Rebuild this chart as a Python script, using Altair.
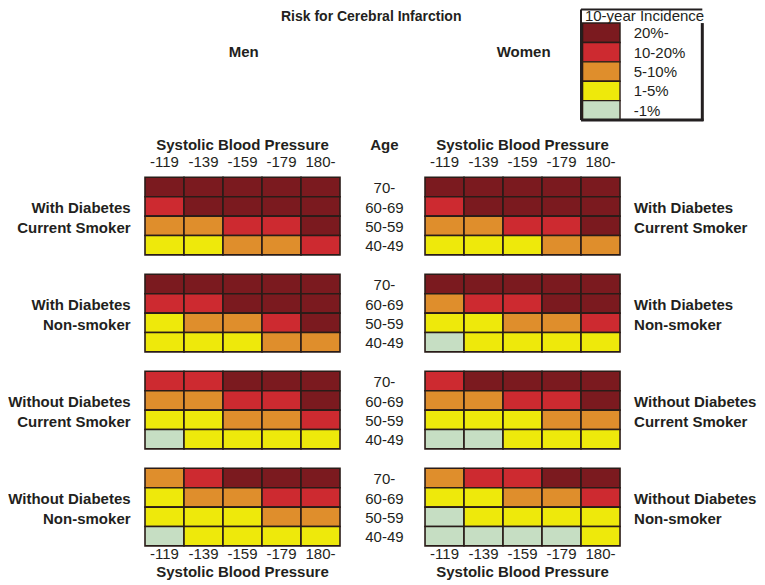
import altair as alt
import pandas as pd

# ---------------- data ----------------
sbp_labels = ["-119", "-139", "-159", "-179", "180-"]
age_labels = ["70-", "60-69", "50-59", "40-49"]
group_line1 = ["With Diabetes", "With Diabetes", "Without Diabetes", "Without Diabetes"]
group_line2 = ["Current Smoker", "Non-smoker", "Current Smoker", "Non-smoker"]
sex_labels = ["Men", "Women"]
level_labels = ["20%-", "10-20%", "5-10%", "1-5%", "-1%"]
level_colors = ["#7b1a1f", "#cd2a30", "#df8e2c", "#eee90b", "#c6dec3"]

# risk class per cell: index into level_labels; rows = ages (70-, 60-69, 50-59, 40-49), cols = SBP
men_risk = [
    [[0, 0, 0, 0, 0], [1, 0, 0, 0, 0], [2, 2, 1, 1, 0], [3, 3, 2, 2, 1]],
    [[0, 0, 0, 0, 0], [1, 1, 0, 0, 0], [3, 2, 2, 1, 0], [3, 3, 3, 2, 2]],
    [[1, 1, 0, 0, 0], [2, 2, 1, 1, 0], [3, 3, 2, 2, 1], [4, 3, 3, 3, 3]],
    [[2, 1, 0, 0, 0], [3, 2, 2, 1, 1], [3, 3, 3, 2, 2], [4, 3, 3, 3, 3]],
]
women_risk = [
    [[0, 0, 0, 0, 0], [1, 0, 0, 0, 0], [2, 2, 1, 1, 0], [3, 3, 3, 2, 2]],
    [[0, 0, 0, 0, 0], [2, 1, 1, 0, 0], [3, 3, 2, 2, 1], [4, 3, 3, 3, 3]],
    [[1, 0, 0, 0, 0], [2, 2, 1, 1, 0], [3, 3, 3, 2, 2], [4, 4, 3, 3, 3]],
    [[2, 1, 1, 0, 0], [3, 3, 2, 2, 1], [4, 3, 3, 3, 3], [4, 4, 4, 4, 3]],
]

title_text = "Risk for Cerebral Infarction"
axis_title = "Systolic Blood Pressure"
age_title = "Age"
legend_title = "10-year Incidence"

# ---------------- layout (cell units) ----------------
W, H = 749, 577
X0, Y0 = 137.0, 169.3       # pixel position of first grid's top-left corner
CW, CH = 39.0, 19.4         # cell width / height in pixels
SEX_OFFSET = [0.0, 7.18]    # column offset of each sex's grid
GROUP_STEP = 5              # rows per group block (4 ages + gap)
FONT = "Liberation Sans"
INK = "#231f20"
FS = 15

x_scale = alt.Scale(domain=[-X0 / CW, (W - X0) / CW], nice=False, zero=False)
y_scale = alt.Scale(domain=[-Y0 / CH, (H - Y0) / CH], nice=False, zero=False, reverse=True)


def X(field="u"):
    return alt.X(f"{field}:Q", scale=x_scale, axis=None)


def Y(field="v"):
    return alt.Y(f"{field}:Q", scale=y_scale, axis=None)


# cells
rows = []
for s, risk in enumerate([men_risk, women_risk]):
    for g, block in enumerate(risk):
        for r, line in enumerate(block):
            for c, lv in enumerate(line):
                u = SEX_OFFSET[s] + c
                v = g * GROUP_STEP + r
                rows.append(dict(u=u, u2=u + 1, v=v, v2=v + 1, level=level_labels[lv],
                                 sex=sex_labels[s], sbp=sbp_labels[c], age=age_labels[r]))
cells_df = pd.DataFrame(rows)

color = alt.Color("level:N", scale=alt.Scale(domain=level_labels, range=level_colors), legend=None)

cells = alt.Chart(cells_df).mark_rect(stroke="#2a1c18", strokeWidth=1.6).encode(
    x=X("u"), x2="u2", y=Y("v"), y2="v2", color=color
)


def text_layer(df, **kw):
    base = dict(font=FONT, fontSize=FS, color=INK, baseline="alphabetic")
    base.update(kw)
    return alt.Chart(df).mark_text(**base).encode(x=X("u"), y=Y("v"), text="t:N")


n_groups = len(group_line1)
last_v = (n_groups - 1) * GROUP_STEP + len(age_labels)

# title, sex headers
title_df = pd.DataFrame([dict(u=5.8, v=-8.057, t=title_text)])
sex_df = pd.DataFrame([dict(u=SEX_OFFSET[s] + 2.53, v=-6.216, t=sex_labels[s]) for s in range(2)])
# SBP axis titles top / bottom
axt_df = pd.DataFrame(
    [dict(u=SEX_OFFSET[s] + 2.5, v=-1.407, t=axis_title) for s in range(2)]
    + [dict(u=SEX_OFFSET[s] + 2.5, v=last_v + 1.62, t=axis_title) for s in range(2)]
)
tick_df = pd.DataFrame(
    [dict(u=SEX_OFFSET[s] + c + 0.5, v=-0.531, t=lab) for s in range(2) for c, lab in enumerate(sbp_labels)]
    + [dict(u=SEX_OFFSET[s] + c + 0.5, v=last_v + 0.67, t=lab) for s in range(2) for c, lab in enumerate(sbp_labels)]
)
age_u = (SEX_OFFSET[1] + 5) / 2 + 0.05
age_title_df = pd.DataFrame([dict(u=age_u, v=-1.407, t=age_title)])
age_df = pd.DataFrame(
    [dict(u=age_u, v=g * GROUP_STEP + r + 0.82, t=a) for g in range(n_groups) for r, a in enumerate(age_labels)]
)
left_df = pd.DataFrame(
    [dict(u=-0.37, v=g * GROUP_STEP + 1.82, t=group_line1[g]) for g in range(n_groups)]
    + [dict(u=-0.37, v=g * GROUP_STEP + 2.85, t=group_line2[g]) for g in range(n_groups)]
)
right_df = left_df.copy()
right_df["u"] = SEX_OFFSET[1] + 5 + 0.36

# legend
LEG_U, LEG_V = 11.22, -7.95
leg_rows = [dict(u=LEG_U, u2=LEG_U + 0.96, v=LEG_V + i, v2=LEG_V + i + 1, level=lab)
            for i, lab in enumerate(level_labels)]
leg_df = pd.DataFrame(leg_rows)
legend_cells = alt.Chart(leg_df).mark_rect(stroke="#2a1c18", strokeWidth=1.4).encode(
    x=X("u"), x2="u2", y=Y("v"), y2="v2", color=color
)
leg_lab_df = pd.DataFrame(
    [dict(u=LEG_U + 1.31, v=LEG_V + i + 0.78,
          t=(lab if not lab.startswith("-") else "\u00a0\u00a0" + lab))
     for i, lab in enumerate(level_labels)]
)
leg_title_df = pd.DataFrame([dict(u=LEG_U + 0.06, v=-8.04, t=legend_title)])

box_u0, box_u1 = 11.18, 14.29
box_v0, box_v1 = -8.65, LEG_V + len(level_labels)
thin_df = pd.DataFrame([
    dict(u=box_u0, u2=box_u1, v=box_v0, v2=box_v0),
    dict(u=box_u0, u2=box_u0, v=box_v0, v2=box_v1),
])
thick_df = pd.DataFrame([
    dict(u=box_u1, u2=box_u1, v=LEG_V, v2=box_v1 + 0.05),
    dict(u=box_u0, u2=box_u1 + 0.03, v=box_v1, v2=box_v1),
])
thin_rules = alt.Chart(thin_df).mark_rule(color=INK, strokeWidth=2).encode(
    x=X("u"), x2="u2", y=Y("v"), y2="v2")
thick_rules = alt.Chart(thick_df).mark_rule(color=INK, strokeWidth=3).encode(
    x=X("u"), x2="u2", y=Y("v"), y2="v2")

chart = alt.layer(
    cells,
    legend_cells,
    thin_rules,
    thick_rules,
    text_layer(title_df, fontWeight="bold", align="center", fontSize=14),
    text_layer(sex_df, fontWeight="bold", align="center"),
    text_layer(axt_df, fontWeight="bold", align="center"),
    text_layer(tick_df, align="center"),
    text_layer(age_title_df, fontWeight="bold", align="center"),
    text_layer(age_df, align="center"),
    text_layer(left_df, fontWeight="bold", align="right"),
    text_layer(right_df, fontWeight="bold", align="left"),
    text_layer(leg_lab_df, align="left"),
    text_layer(leg_title_df, align="left"),
).properties(
    width=W, height=H, padding=0, autosize=alt.AutoSizeParams(type="none")
).configure_view(strokeWidth=0)

chart.save("out.html", embed_options={"renderer": "svg", "actions": False})
